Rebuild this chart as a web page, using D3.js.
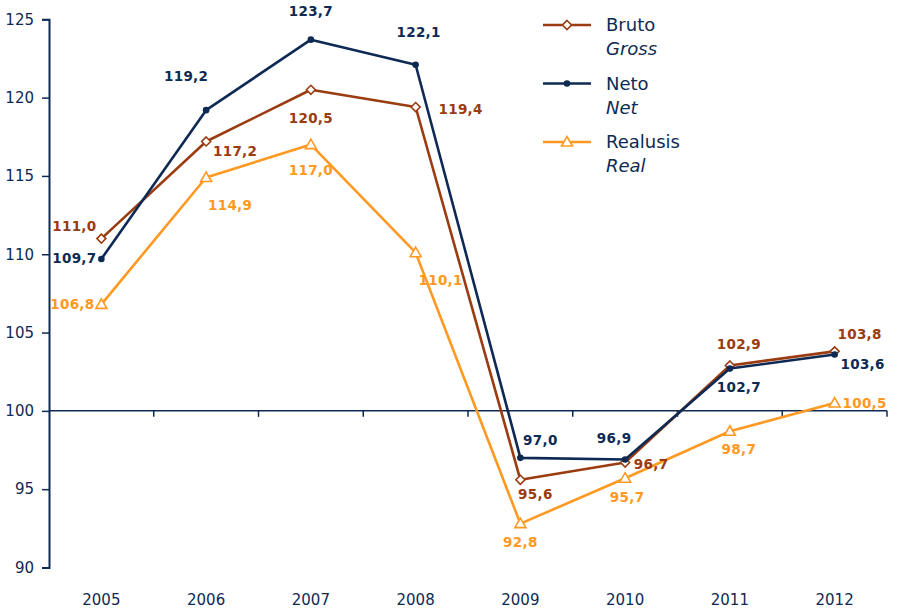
<!DOCTYPE html>
<html>
<head>
<meta charset="utf-8">
<script src="https://cdn.jsdelivr.net/npm/d3@7"></script>
<style>
  body { margin: 0; background: #fff; }
  svg text { font-family: "DejaVu Sans", sans-serif; }
</style>
</head>
<body>
<div id="graph"></div>
<script>
let years = ["2005", "2006", "2007", "2008", "2009", "2010", "2011", "2012"];
let bruto = [111.0, 117.2, 120.5, 119.4, 95.6, 96.7, 102.9, 103.8];
let neto = [109.7, 119.2, 123.7, 122.1, 97.0, 96.9, 102.7, 103.6];
let realusis = [106.8, 114.9, 117.0, 110.1, 92.8, 95.7, 98.7, 100.5];
let yTicks = [90, 95, 100, 105, 110, 115, 120, 125];

// label offsets (dx, dy) from each point, per series
let brutoOff = [[-27, -12], [29, 10], [0, 28], [45, 2], [15, 14], [26, 2], [9, -21], [25, -17]];
let netoOff = [[-27, -1], [-20, -34], [0, -28], [3, -32], [20, -18], [-11, -21], [9, 19], [28, 10]];
let realOff = [[-29, 0], [24, 28], [0, 26], [25, 28], [0, 19], [2, 19], [9, 18], [30, 0]];

const NAVY = "#0e2a54", BROWN = "#9a3b10", ORANGE = "#ff9922";

let width = 898, height = 613;
let svg = d3.select("#graph").append("svg")
    .attr("width", width)
    .attr("height", height);

let x_scale = d3.scaleBand()
    .domain(years)
    .range([49, 887]);

let y_scale = d3.scaleLinear()
    .domain([90, 125])
    .range([567.5, 19.3]);

let cx = d => x_scale(d) + x_scale.bandwidth() / 2;

// y axis
let yAxis = svg.append("g")
    .attr("transform", "translate(49,0)")
    .call(d3.axisLeft(y_scale).tickValues(yTicks).tickSize(7).tickPadding(8));
yAxis.select(".domain").attr("stroke", NAVY).attr("stroke-width", 2);
yAxis.selectAll(".tick line").attr("stroke", NAVY).attr("stroke-width", 1.5);
yAxis.selectAll(".tick text")
    .attr("fill", NAVY)
    .style("font-size", "15px")
    .style("font-family", "DejaVu Sans, sans-serif");

// x axis along 100 with boundary ticks
let xg = svg.append("g");
xg.append("line")
    .attr("x1", 49).attr("x2", 887)
    .attr("y1", y_scale(100)).attr("y2", y_scale(100))
    .attr("stroke", NAVY).attr("stroke-width", 1.5);
xg.selectAll(".bt")
    .data(years.slice(1).concat(["end"]))
    .enter().append("line")
    .attr("x1", (d, i) => i < years.length - 1 ? x_scale(d) : 887)
    .attr("x2", (d, i) => i < years.length - 1 ? x_scale(d) : 887)
    .attr("y1", y_scale(100))
    .attr("y2", y_scale(100) + 6)
    .attr("stroke", NAVY).attr("stroke-width", 1.5);

svg.selectAll(".year")
    .data(years)
    .enter().append("text")
    .attr("x", d => cx(d))
    .attr("y", 605)
    .attr("text-anchor", "middle")
    .attr("fill", NAVY)
    .style("font-size", "15px")
    .text(d => d);

let valueLine = d3.line()
    .x((d, i) => cx(years[i]))
    .y(d => y_scale(d));

let fmt = v => v.toFixed(1).replace(".", ",");

function drawSeries(values, color, marker, offsets) {
    svg.append("path")
        .datum(values)
        .attr("fill", "none")
        .attr("stroke", color)
        .attr("stroke-width", 2.6)
        .attr("stroke-linejoin", "round")
        .attr("d", valueLine);

    let g = svg.append("g");
    values.forEach((v, i) => {
        drawMarker(g, marker, cx(years[i]), y_scale(v), color);
    });

    svg.append("g").selectAll("text")
        .data(values)
        .enter().append("text")
        .attr("x", (d, i) => cx(years[i]) + offsets[i][0])
        .attr("y", (d, i) => y_scale(d) + offsets[i][1])
        .attr("dy", "0.35em")
        .attr("text-anchor", "middle")
        .attr("fill", color)
        .style("font-size", "13.5px")
        .style("font-weight", "bold")
        .style("letter-spacing", "0.3px")
        .text(d => fmt(d));
}

function drawMarker(g, marker, x, y, color) {
    if (marker === "diamond") {
        g.append("path")
            .attr("d", `M${x},${y - 4.5}L${x + 4.5},${y}L${x},${y + 4.5}L${x - 4.5},${y}Z`)
            .attr("fill", "#fff").attr("stroke", color).attr("stroke-width", 1.6);
    } else if (marker === "dot") {
        g.append("circle")
            .attr("cx", x).attr("cy", y).attr("r", 3.3)
            .attr("fill", color);
    } else {
        g.append("path")
            .attr("d", `M${x},${y - 5.5}L${x + 5.5},${y + 4}L${x - 5.5},${y + 4}Z`)
            .attr("fill", "#fff").attr("stroke", color).attr("stroke-width", 1.6);
    }
}

drawSeries(realusis, ORANGE, "triangle", realOff);
drawSeries(bruto, BROWN, "diamond", brutoOff);
drawSeries(neto, NAVY, "dot", netoOff);

// legend
let legendItems = [
    {name: "Bruto", en: "Gross", color: BROWN, marker: "diamond"},
    {name: "Neto", en: "Net", color: NAVY, marker: "dot"},
    {name: "Realusis", en: "Real", color: ORANGE, marker: "triangle"}
];
let legend = svg.append("g");
legendItems.forEach((d, i) => {
    let y = 25 + i * 58.5;
    legend.append("line")
        .attr("x1", 543).attr("x2", 591)
        .attr("y1", y).attr("y2", y)
        .attr("stroke", d.color).attr("stroke-width", 2.6);
    drawMarker(legend, d.marker, 567, y, d.color);
    legend.append("text")
        .attr("x", 606).attr("y", y)
        .attr("dy", "0.35em")
        .attr("fill", NAVY)
        .style("font-size", "18px")
        .text(d.name);
    legend.append("text")
        .attr("x", 606).attr("y", y + 24)
        .attr("dy", "0.35em")
        .attr("fill", NAVY)
        .style("font-size", "18px")
        .style("font-style", "italic")
        .text(d.en);
});
</script>
</body>
</html>
